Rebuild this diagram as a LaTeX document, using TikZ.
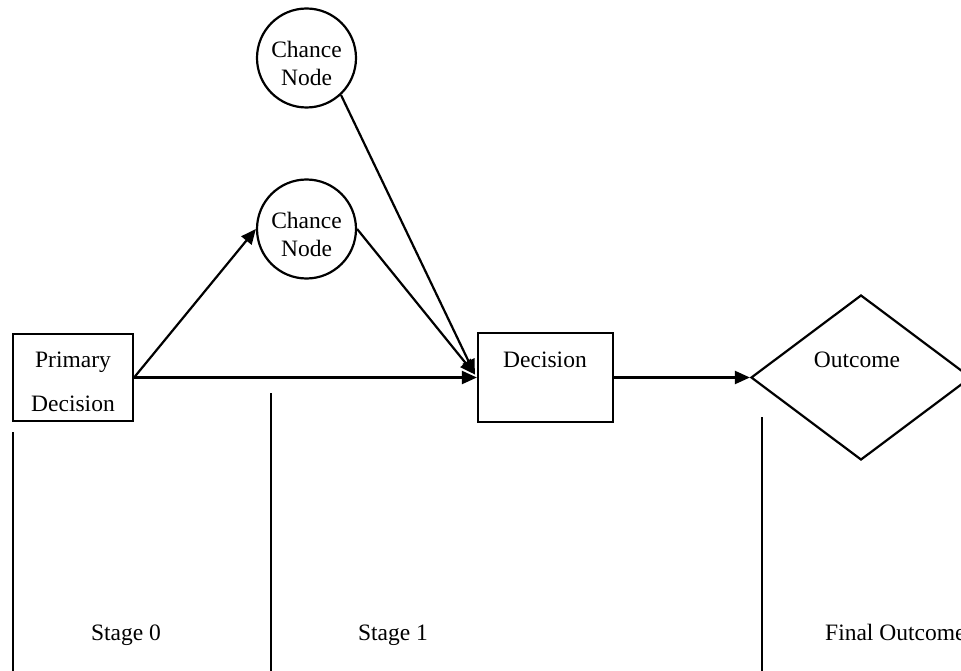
\documentclass[tikz,border=0pt]{standalone}
\usepackage{fontspec}
\setmainfont{Liberation Serif}
\usetikzlibrary{arrows.meta,shapes.geometric,calc}

\tikzset{
  lbl/.style={inner sep=0pt, font=\fontsize{23.5}{28}\selectfont},
  boxnode/.style={draw, line width=2.2pt, rectangle, inner sep=0pt},
  chancenode/.style={draw, line width=2.2pt, circle, inner sep=0pt, minimum size=99pt},
  outnode/.style={draw, line width=2.2pt, diamond, inner sep=0pt, minimum width=220pt, minimum height=165pt},
  link/.style={line width=2.2pt, -{Triangle[length=15pt,width=13pt]}},
  divider/.style={line width=2.4pt}
}

\begin{document}
\begin{tikzpicture}[x=1pt, y=-1pt]
  \useasboundingbox (0,0) rectangle (961,671);
  \clip (0,0) rectangle (961,671);

  % stage dividers
  \draw[divider] (13,432) -- (13,671);
  \draw[divider] (271,393) -- (271,671);
  \draw[divider] (762,417) -- (762,671);

  % primary decision
  \node[boxnode, minimum width=120pt, minimum height=87pt] (pd) at (73,377.5) {};
  \node[lbl, align=center, font=\fontsize{23.5}{44}\selectfont] (pdt) at (73,382) {Primary\\Decision};

  % chance nodes
  \node[chancenode] (c1) at (306.5,58) {};
  \node[lbl, align=center] (c1t) at (306.5,63) {Chance\\Node};
  \node[chancenode] (c2) at (306.5,229) {};
  \node[lbl, align=center] (c2t) at (306.5,234) {Chance\\Node};

  % second decision
  \node[boxnode, minimum width=135pt, minimum height=89pt] (dec) at (545.5,377.5) {};
  \node[lbl] (dect) at (545,360) {Decision};

  % outcome
  \node[outnode] (out) at (861,377.5) {};
  \node[lbl] (outt) at (857,360) {Outcome};

  % stage labels
  \node[lbl, anchor=base] (s0) at (126,640) {Stage 0};
  \node[lbl, anchor=base] (s1) at (393,640) {Stage 1};
  \node[lbl, anchor=base west] (sf) at (825,640) {Final Outcome};

  % connectors
  \draw[link] (pd.east) -- (dec.west);
  \draw[link] (pd.east) -- (c2.west);
  \draw[link] (c2.east) -- ($(dec.west)+(-2,-3)$);
  \draw[link] (c1.-47) -- ($(dec.west)+(-2,-3)$);
  \draw[link] (dec.east) -- (out.west);
\end{tikzpicture}
\end{document}
